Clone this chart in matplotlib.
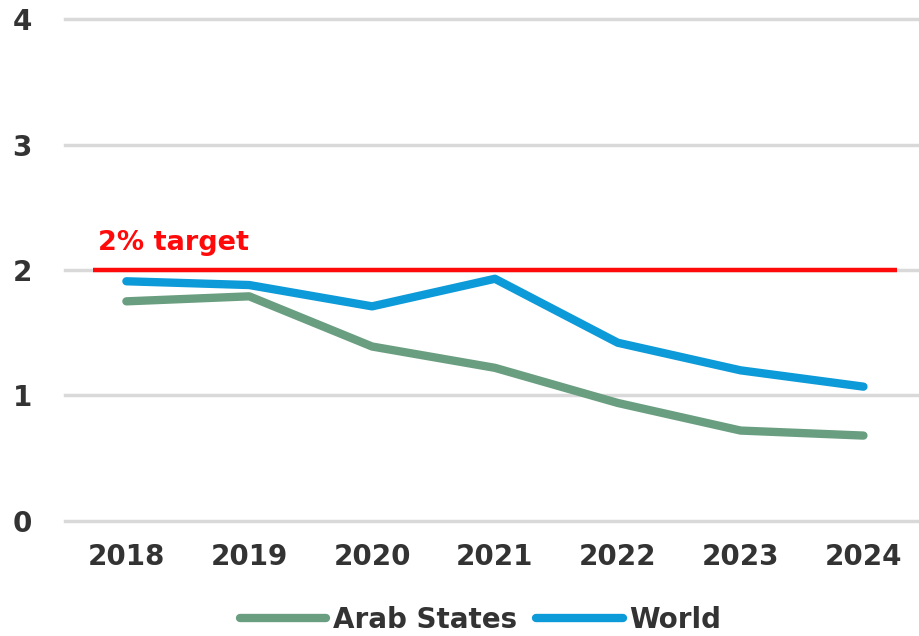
import numpy as np
import matplotlib.pyplot as plt

# values
years = ['2018', '2019', '2020', '2021', '2022', '2023', '2024']
arab_states = [1.75, 1.79, 1.39, 1.22, 0.94, 0.72, 0.68]
world = [1.91, 1.88, 1.71, 1.93, 1.42, 1.20, 1.07]
target = 2
yticks = [0, 1, 2, 3, 4]

green = '#6a9e80'
blue = '#0d9ad8'
red = '#ff0a0a'
txt = '#333333'

fig = plt.figure(figsize=(9.19, 6.36), dpi=100)
ax = fig.add_axes([0.0707, 0.181, 0.929, 0.789])

x = np.arange(len(years))

for y in yticks:
    ax.axhline(y, color='#d9d9d9', lw=2.5, zorder=1, clip_on=False)

# target line
ax.plot([-0.275, 6.27], [target, target], color=red, lw=3.2, zorder=2, solid_capstyle='butt')
ax.text(-0.23, target + 0.11, '2% target', color=red, fontsize=19.5, fontweight='bold',
        ha='left', va='bottom')

ax.plot(x, arab_states, color=green, lw=6, solid_capstyle='round', solid_joinstyle='round',
        zorder=3, label='Arab States')
ax.plot(x, world, color=blue, lw=6, solid_capstyle='round', solid_joinstyle='round',
        zorder=3, label='World')

ax.set_xlim(-0.5, 6.45)
ax.set_ylim(0, 4)
ax.set_xticks(x)
ax.set_xticklabels(years)
ax.set_yticks(yticks)
ax.tick_params(length=0, labelsize=20, labelcolor=txt)
ax.tick_params(axis='x', pad=16)
ax.tick_params(axis='y', pad=24)
for lab in ax.get_xticklabels() + ax.get_yticklabels():
    lab.set_fontweight('bold')
for s in ax.spines.values():
    s.set_visible(False)

leg = fig.legend(loc='lower center', bbox_to_anchor=(0.523, -0.036), ncol=2, frameon=False,
                 handlelength=3.1, columnspacing=0.7, handletextpad=0.25,
                 prop={'size': 20, 'weight': 'bold'})
for t in leg.get_texts():
    t.set_color(txt)

fig.savefig('out.png', dpi=100)
